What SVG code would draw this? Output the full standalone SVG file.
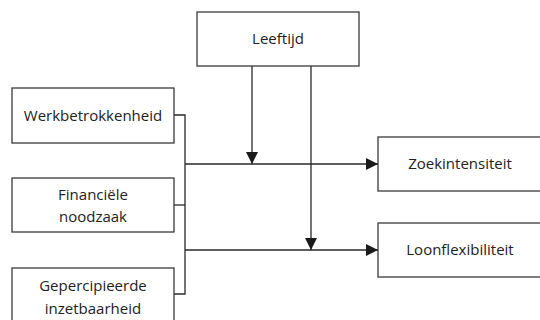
<svg xmlns="http://www.w3.org/2000/svg" width="540" height="320" viewBox="0 0 540 320">
<style>
.box{fill:#fff;stroke:#3a3a3a;stroke-width:1.3}
.ln{fill:none;stroke:#2a2a2a;stroke-width:1.3}
text{font-family:"Open Sans","DejaVu Sans",sans-serif;font-size:15px;fill:#222;text-anchor:middle}
</style>
<defs>
<marker id="ah" viewBox="0 0 12 12" refX="12" refY="6" markerWidth="12" markerHeight="12" markerUnits="userSpaceOnUse" orient="auto">
<path d="M0,0 L12,6 L0,12 Z" fill="#1a1a1a"/>
</marker>
</defs>
<g id="connectors">
<polyline class="ln" points="174,115 185,115 185,294 174,294"/>
<line class="ln" x1="174" y1="205" x2="185" y2="205"/>
<line class="ln" x1="185" y1="164" x2="378" y2="164" marker-end="url(#ah)"/>
<line class="ln" x1="185" y1="250" x2="378" y2="250" marker-end="url(#ah)"/>
<line class="ln" x1="252" y1="66" x2="252" y2="164" marker-end="url(#ah)"/>
<line class="ln" x1="311" y1="66" x2="311" y2="250" marker-end="url(#ah)"/>
</g>
<g id="leeftijd">
<rect class="box" x="197" y="12" width="162" height="54"/>
<text x="278" y="44">Leeftijd</text>
</g>
<g id="werkbetrokkenheid">
<rect class="box" x="12" y="88" width="162" height="55"/>
<text x="93" y="121">Werkbetrokkenheid</text>
</g>
<g id="financiele">
<rect class="box" x="12" y="178" width="162" height="54"/>
<text x="93" y="200">Financiële</text>
<text x="93" y="222">noodzaak</text>
</g>
<g id="gepercipieerde">
<rect class="box" x="12" y="268" width="162" height="60"/>
<text x="93" y="291">Gepercipieerde</text>
<text x="93" y="314">inzetbaarheid</text>
</g>
<g id="zoekintensiteit">
<rect class="box" x="378" y="137" width="170" height="54"/>
<text x="460" y="169">Zoekintensiteit</text>
</g>
<g id="loonflexibiliteit">
<rect class="box" x="378" y="223" width="170" height="54"/>
<text x="460" y="255">Loonflexibiliteit</text>
</g>
</svg>
